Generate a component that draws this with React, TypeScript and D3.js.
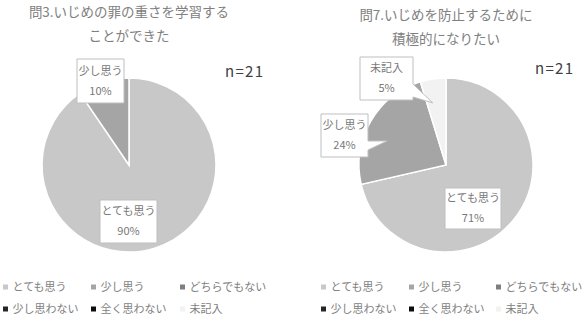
import React from "react";
import * as d3 from "d3";

const categories = ["とても思う", "少し思う", "どちらでもない", "少し思わない", "全く思わない", "未記入"];
const colors = ["#c8c8c8", "#a5a5a5", "#7f7f7f", "#262626", "#0d0d0d", "#f2f2f2"];
const q3Values = [19, 2, 0, 0, 0, 0];
const q7Values = [15, 5, 0, 0, 0, 1];
const q3Title = ["問3.いじめの罪の重さを学習する", "ことができた"];
const q7Title = ["問7.いじめを防止するために", "積極的になりたい"];
const nLabel = "n=21";

const FONT = "'Noto Sans CJK JP', 'Noto Sans', sans-serif";
const R = 87;

type LabelLayout = {
  idx: number;
  dx: number;
  dy: number;
  w: number;
  h: number;
  pointer?: { y1: number; y2: number; t: number; r: number };
};

const charts = [
  {
    values: q3Values,
    title: q3Title,
    cx: 129,
    cy: 165,
    titleY: [17, 41],
    nX: 225,
    nY: 77,
    legendX: [3, 91, 180],
    labels: [
      { idx: 1, dx: -28.5, dy: -84, w: 47, h: 44 },
      { idx: 0, dx: -0.5, dy: 56.5, w: 57, h: 43 },
    ] as LabelLayout[],
  },
  {
    values: q7Values,
    title: q7Title,
    cx: 446,
    cy: 165,
    titleY: [20, 44],
    nX: 535,
    nY: 74,
    legendX: [321, 409, 496],
    labels: [
      { idx: 5, dx: -59.5, dy: -86.5, w: 53, h: 43, pointer: { y1: 84, y2: 97, t: 0.3, r: 0.73 } },
      { idx: 1, dx: -101.5, dy: -29.5, w: 47, h: 43, pointer: { y1: 141, y2: 150, t: 0.41, r: 0.73 } },
      { idx: 0, dx: 27, dy: 43.5, w: 56, h: 41 },
    ] as LabelLayout[],
  },
];

function PieChart({ c }: { c: (typeof charts)[number] }) {
  const total = d3.sum(c.values);
  const pie = d3.pie<number>().sort(null).value((d) => d)(c.values);
  const arc = d3.arc<d3.PieArcDatum<number>>().innerRadius(0).outerRadius(R);
  const pct = d3.format(".0%");
  return (
    <g>
      {c.title.map((t, i) => (
        <text key={i} x={c.cx} y={c.titleY[i]} textAnchor="middle" fontSize={13.5} fill="#808080" fontFamily={FONT}>
          {t}
        </text>
      ))}
      <text x={c.nX} y={c.nY} fontSize={15} fill="#404040" fontFamily={FONT} textLength={38}>
        {nLabel}
      </text>
      <g transform={`translate(${c.cx},${c.cy})`}>
        {pie.map((p, i) =>
          p.value > 0 ? <path key={i} d={arc(p) || ""} fill={colors[i]} stroke="#ffffff" strokeWidth={1.5} /> : null
        )}
      </g>
      {c.labels.map((l, k) => {
        const p = pie[l.idx];
        const bx = c.cx + l.dx;
        const by = c.cy + l.dy;
        const x0 = bx - l.w / 2;
        const x1 = bx + l.w / 2;
        const y0 = by - l.h / 2;
        const y1 = by + l.h / 2;
        let d = `M${x0},${y0}H${x1}V${y1}H${x0}Z`;
        if (l.pointer) {
          const a = p.startAngle + (p.endAngle - p.startAngle) * l.pointer.t;
          const rr = R * l.pointer.r;
          const tx = c.cx + rr * Math.sin(a);
          const ty = c.cy - rr * Math.cos(a);
          d = `M${x0},${y0}H${x1}V${l.pointer.y1}L${tx},${ty}L${x1},${l.pointer.y2}V${y1}H${x0}Z`;
        }
        return (
          <g key={k}>
            <path d={d} fill="#ffffff" stroke="#bfbfbf" strokeWidth={1} />
            <text x={bx} y={by - 6.5} textAnchor="middle" fontSize={11} fill="#787878" fontFamily={FONT}>
              {categories[l.idx]}
            </text>
            <text x={bx} y={by + 13.5} textAnchor="middle" fontSize={11} fill="#787878" fontFamily={FONT}>
              {pct(c.values[l.idx] / total)}
            </text>
          </g>
        );
      })}
      {categories.map((cat, i) => {
        const col = i % 3;
        const row = Math.floor(i / 3);
        const lx = c.legendX[col];
        const ly = 287 + row * 22;
        return (
          <g key={cat}>
            <rect x={lx} y={ly - 2.5} width={5} height={5} fill={colors[i]} />
            <text x={lx + 9.5} y={ly + 4} fontSize={11} fill="#7e7e7e" fontFamily={FONT}>
              {cat}
            </text>
          </g>
        );
      })}
    </g>
  );
}

export default function App() {
  return (
    <svg
      width={584}
      height={336}
      style={{ position: "absolute", left: 0, top: 0, background: "#ffffff" }}
    >
      <rect width={584} height={336} fill="#ffffff" />
      {charts.map((c, i) => (
        <PieChart key={i} c={c} />
      ))}
    </svg>
  );
}
